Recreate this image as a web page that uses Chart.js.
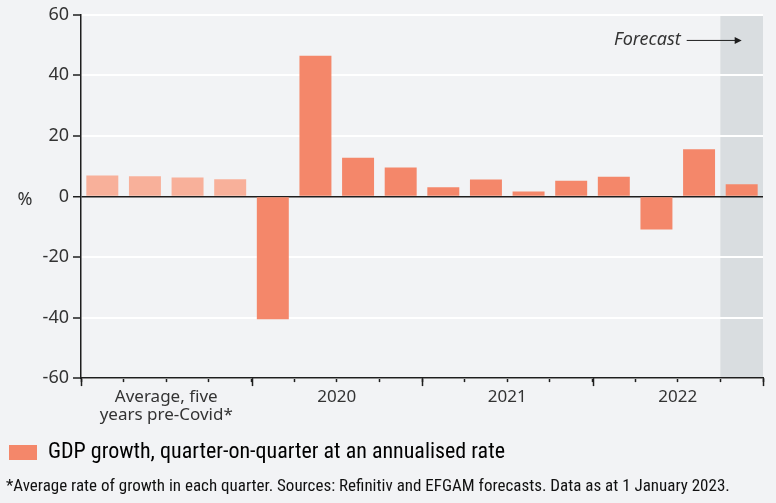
<!DOCTYPE html>
<html>
<head>
<meta charset="utf-8">
<script src="https://cdn.jsdelivr.net/npm/chart.js@4.4.1/dist/chart.umd.min.js"></script>
<style>
  html, body { margin: 0; padding: 0; background: #f2f3f5; }
  #wrap { width: 776px; height: 503px; position: relative; }
</style>
</head>
<body>
<div id="wrap"><canvas id="gdpChart"></canvas></div>
<script>
const quarters = ['Avg Q1', 'Avg Q2', 'Avg Q3', 'Avg Q4',
    '2020 Q1', '2020 Q2', '2020 Q3', '2020 Q4',
    '2021 Q1', '2021 Q2', '2021 Q3', '2021 Q4',
    '2022 Q1', '2022 Q2', '2022 Q3', '2022 Q4'];
const gdpGrowth = [6.9, 6.7, 6.3, 5.7, -40.6, 46.5, 12.8, 9.6, 3.0, 5.6, 1.6, 5.2, 6.5, -10.9, 15.6, 4.0];
const groupLabels = [['Average, five', 'years pre-Covid*'], '2020', '2021', '2022'];
const groupSize = 4;
const forecastIndex = 15;
const legendText = 'GDP growth, quarter-on-quarter at an annualised rate';
const footnote = '*Average rate of growth in each quarter. Sources: Refinitiv and EFGAM forecasts. Data as at 1 January 2023.';

const MAIN_COLOR = '#f4876a';
const AVG_COLOR = '#f8b09a';
const TEXT_COLOR = '#333333';
const AXIS_COLOR = '#1e1e1e';
const BASE_FONT = "'Noto Sans', 'Open Sans', sans-serif";
const NARROW_FONT = "'Liberation Sans Narrow', 'Roboto Condensed', 'Noto Sans', sans-serif";

// grey band behind the forecast quarter, drawn before the grid
const forecastShade = {
    id: 'forecastShade',
    beforeDraw(chart) {
        const { ctx, chartArea, scales } = chart;
        const x = scales.x;
        const half = (x.getPixelForValue(1) - x.getPixelForValue(0)) / 2;
        const cx = x.getPixelForValue(forecastIndex);
        ctx.save();
        ctx.fillStyle = '#d9dde0';
        ctx.fillRect(cx - half, chartArea.top, half * 2, chartArea.bottom - chartArea.top);
        ctx.restore();
    }
};

// long ticks between year groups, the % label and the forecast arrow
const extras = {
    id: 'extras',
    afterDraw(chart) {
        const { ctx, chartArea, scales } = chart;
        const x = scales.x, y = scales.y;
        const half = (x.getPixelForValue(1) - x.getPixelForValue(0)) / 2;
        ctx.save();
        ctx.strokeStyle = AXIS_COLOR;
        ctx.lineWidth = 1.5;
        for (let g = 0; g <= quarters.length / groupSize; g++) {
            const px = Math.round(x.getPixelForValue(g * groupSize) - half) + 0.5;
            ctx.beginPath();
            ctx.moveTo(px, chartArea.bottom);
            ctx.lineTo(px, chartArea.bottom + 8);
            ctx.stroke();
        }

        ctx.fillStyle = TEXT_COLOR;
        ctx.font = '18px ' + BASE_FONT;
        ctx.textAlign = 'center';
        ctx.textBaseline = 'middle';
        ctx.fillText('%', 25, y.getPixelForValue(-1));

        const tipX = x.getPixelForValue(forecastIndex);
        const ay = y.getPixelForValue(51.7);
        ctx.font = 'italic 18px ' + BASE_FONT;
        ctx.textAlign = 'right';
        ctx.fillText('Forecast', tipX - 61, ay);
        ctx.lineWidth = 1;
        ctx.beginPath();
        ctx.moveTo(tipX - 55, ay + 0.5);
        ctx.lineTo(tipX - 4, ay + 0.5);
        ctx.stroke();
        ctx.fillStyle = AXIS_COLOR;
        ctx.beginPath();
        ctx.moveTo(tipX, ay + 0.5);
        ctx.lineTo(tipX - 7, ay - 3);
        ctx.lineTo(tipX - 7, ay + 4);
        ctx.closePath();
        ctx.fill();
        ctx.restore();
    }
};

const ctx = document.getElementById('gdpChart').getContext('2d');
new Chart(ctx, {
    type: 'bar',
    data: {
        labels: quarters,
        datasets: [{
            label: legendText,
            data: gdpGrowth,
            backgroundColor: gdpGrowth.map((v, i) => i < groupSize ? AVG_COLOR : MAIN_COLOR),
            borderWidth: 0,
            barPercentage: 0.75,
            categoryPercentage: 1.0
        }]
    },
    options: {
        responsive: true,
        maintainAspectRatio: false,
        animation: false,
        layout: { padding: { left: 6, right: 13, top: 13, bottom: 4 } },
        plugins: {
            tooltip: { enabled: false },
            legend: {
                position: 'bottom',
                align: 'start',
                labels: {
                    boxWidth: 28,
                    boxHeight: 15,
                    padding: 3,
                    color: '#111',
                    font: { family: NARROW_FONT, size: 22 },
                    generateLabels: (chart) => [{
                        text: legendText,
                        fillStyle: MAIN_COLOR,
                        strokeStyle: MAIN_COLOR,
                        lineWidth: 0,
                        datasetIndex: 0
                    }]
                }
            },
            title: {
                display: true,
                position: 'bottom',
                align: 'start',
                text: footnote,
                color: '#111',
                font: { family: NARROW_FONT, size: 17, weight: 'normal' },
                padding: { top: 3, bottom: 2 }
            }
        },
        scales: {
            x: {
                afterFit: (scale) => { scale.height = 60.5; },
                grid: {
                    display: true,
                    drawOnChartArea: false,
                    offset: true,
                    tickLength: 4,
                    tickColor: AXIS_COLOR,
                    tickWidth: 1.5
                },
                border: { color: AXIS_COLOR, width: 1.5 },
                ticks: {
                    autoSkip: false,
                    maxRotation: 0,
                    labelOffset: 21.3,
                    padding: 6,
                    color: TEXT_COLOR,
                    font: { family: BASE_FONT, size: 17, lineHeight: 1.05 },
                    callback: (val, idx) => idx % groupSize === 1 ? groupLabels[(idx - 1) / groupSize] : ''
                }
            },
            y: {
                min: -60,
                max: 60,
                afterFit: (scale) => { scale.width = 75; },
                grid: {
                    color: (c) => c.tick && c.tick.value === 0 ? AXIS_COLOR : '#ffffff',
                    lineWidth: (c) => c.tick && c.tick.value === 0 ? 1.5 : 2,
                    tickLength: 8,
                    tickColor: AXIS_COLOR,
                    tickWidth: 1.5
                },
                border: { color: AXIS_COLOR, width: 1.5 },
                ticks: {
                    stepSize: 20,
                    padding: 4,
                    color: TEXT_COLOR,
                    font: { family: BASE_FONT, size: 18 }
                }
            }
        }
    },
    plugins: [forecastShade, extras]
});
</script>
</body>
</html>
